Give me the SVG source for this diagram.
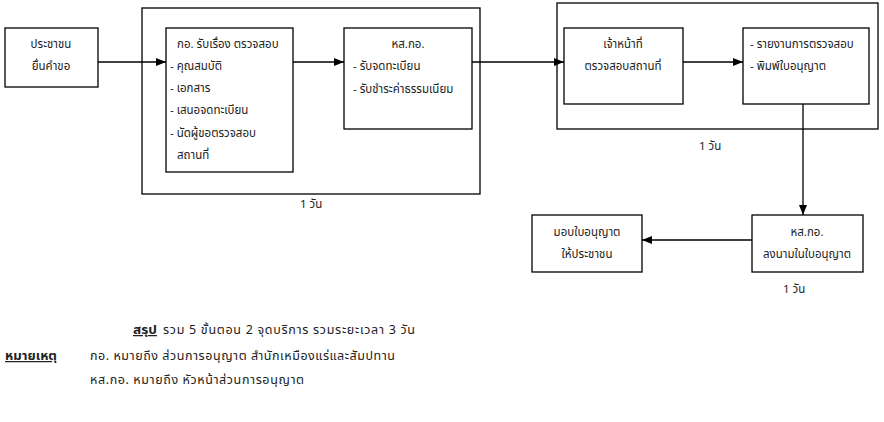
<svg xmlns="http://www.w3.org/2000/svg" width="884" height="422" viewBox="0 0 884 422">
<defs>
<marker id="ah" markerWidth="10" markerHeight="8" refX="10" refY="4" orient="auto" markerUnits="userSpaceOnUse">
<path d="M0,0 L10,4 L0,8 z" fill="#000"/>
</marker>
<style>
rect{fill:#fff;stroke:#000;stroke-width:1.3}
text{font-family:"Noto Sans Thai","Tahoma","Noto Sans","DejaVu Sans",sans-serif;font-size:11.5px;fill:#222}
.c{text-anchor:middle}
.s{font-size:12.5px}
.b{font-weight:bold;text-decoration:underline}
.ln{stroke:#000;stroke-width:1.3;fill:none}
</style>
</defs>
<rect width="884" height="422" style="stroke:none"/>
<g id="group1"><rect x="142" y="8" width="338" height="186"/></g>
<g id="group2"><rect x="557" y="3" width="321" height="126"/></g>
<g id="n1"><rect x="5" y="28" width="93" height="59"/>
<text x="51" y="48" class="c">ประชาชน</text><text x="51" y="70" class="c">ยื่นคำขอ</text></g>
<g id="n2"><rect x="166" y="28" width="127" height="144"/>
<text x="177" y="48">กอ. รับเรื่อง ตรวจสอบ</text>
<text x="170" y="70">- คุณสมบัติ</text>
<text x="170" y="92">- เอกสาร</text>
<text x="170" y="114">- เสนอจดทะเบียน</text>
<text x="170" y="137">- นัดผู้ขอตรวจสอบ</text>
<text x="177" y="159">สถานที่</text></g>
<g id="n3"><rect x="344" y="28" width="128" height="101"/>
<text x="408" y="48" class="c">หส.กอ.</text>
<text x="353" y="70">- รับจดทะเบียน</text>
<text x="353" y="93">- รับชำระค่าธรรมเนียม</text></g>
<g id="n4"><rect x="564" y="28" width="119" height="76"/>
<text x="623" y="48" class="c">เจ้าหน้าที่</text>
<text x="623" y="70" class="c">ตรวจสอบสถานที่</text></g>
<g id="n5"><rect x="743" y="28" width="126" height="76"/>
<text x="750" y="48">- รายงานการตรวจสอบ</text>
<text x="750" y="70">- พิมพ์ใบอนุญาต</text></g>
<g id="n6"><rect x="752" y="215" width="111" height="57"/>
<text x="807" y="236" class="c">หส.กอ.</text>
<text x="807" y="258" class="c">ลงนามในใบอนุญาต</text></g>
<g id="n7"><rect x="532" y="215" width="110" height="57"/>
<text x="587" y="236" class="c">มอบใบอนุญาต</text>
<text x="587" y="258" class="c">ให้ประชาชน</text></g>
<g id="connectors">
<path class="ln" d="M98,62 H166" marker-end="url(#ah)"/>
<path class="ln" d="M293,62 H344" marker-end="url(#ah)"/>
<path class="ln" d="M472,62 H564" marker-end="url(#ah)"/>
<path class="ln" d="M683,62 H743" marker-end="url(#ah)"/>
<path class="ln" d="M803,104 V215" marker-end="url(#ah)"/>
<path class="ln" d="M752,240 H642" marker-end="url(#ah)"/>
</g>
<g id="labels">
<text x="300" y="208">1 วัน</text>
<text x="699" y="150">1 วัน</text>
<text x="783" y="293">1 วัน</text>
<text x="133" y="334" class="s b" textLength="24" lengthAdjust="spacingAndGlyphs">สรุป</text>
<text x="163" y="334" class="s" textLength="252" lengthAdjust="spacing">รวม  5  ขั้นตอน  2 จุดบริการ  รวมระยะเวลา 3 วัน</text>
<text x="5" y="360" class="s b" textLength="52" lengthAdjust="spacingAndGlyphs">หมายเหตุ</text>
<text x="90" y="360" class="s" textLength="305" lengthAdjust="spacing">กอ.  หมายถึง  ส่วนการอนุญาต สำนักเหมืองแร่และสัมปทาน</text>
<text x="90" y="384" class="s" textLength="214" lengthAdjust="spacing">หส.กอ.  หมายถึง  หัวหน้าส่วนการอนุญาต</text>
</g>
</svg>
